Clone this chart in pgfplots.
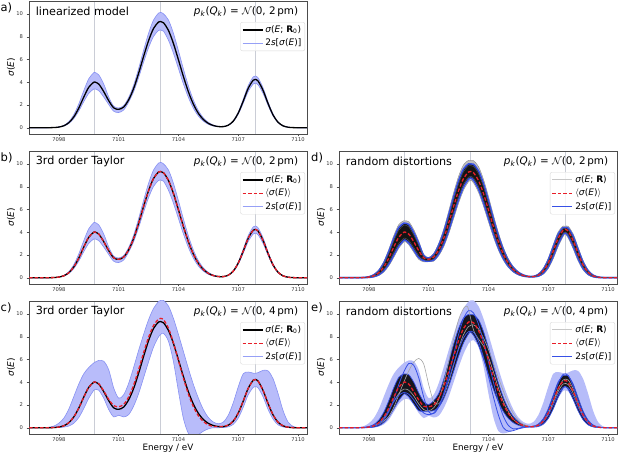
\documentclass[border=0pt]{standalone}
\usepackage{fontspec}
\setmainfont{DejaVu Sans}[ItalicFont={DejaVu Sans Oblique},BoldFont={DejaVu Sans Bold},BoldItalicFont={DejaVu Sans Bold Oblique}]
\usepackage{pgfplots}
\pgfplotsset{compat=1.18}
\usepackage{pgfplotstable}
\usepgfplotslibrary{fillbetween}

\definecolor{bandfill}{RGB}{184,188,250}
\definecolor{bandedge}{RGB}{135,145,242}
\definecolor{bandleg}{RGB}{150,160,246}
\definecolor{redm}{RGB}{232,30,40}
\definecolor{blued}{RGB}{55,80,230}
\definecolor{lav}{RGB}{182,188,249}
\definecolor{gridc}{RGB}{202,205,214}

\pgfplotsset{panel/.style={
 scale only axis, width=278pt, height=133pt,
 xmin=7096.5, xmax=7110.45, ymin=-0.55, ymax=11.15,
 xtick={7098,7101,7104,7107,7110}, xticklabels={7098,7101,7104,7107,7110},
 ytick={0,2,4,6,8,10}, yticklabels={0,2,4,6,8,10},
 tick label style={font=\fontsize{5.2}{6}\selectfont, text=black!80},
 xticklabel style={inner sep=1pt},
 tick align=outside, tick pos=left, major tick length=2.5pt,
 tick style={black!70, line width=0.4pt},
 axis line style={black!70, line width=0.5pt},
 extra x ticks={7099.8,7103.1,7107.85}, extra x tick labels={},
 extra x tick style={grid=major, major grid style={gridc, line width=0.6pt}, major tick length=0pt},
 ylabel={\textit{σ}(\textit{E})},
 ylabel style={at={(axis description cs:-0.065,0.5)}, anchor=center, font=\fontsize{9}{10}\selectfont},
 xlabel style={at={(axis description cs:0.5,-0.11)}, anchor=center, inner sep=0pt, font=\fontsize{8.8}{10}\selectfont},
 legend cell align=left,
 legend style={at={(0.993,0.842)}, anchor=north east, draw=black!15, rounded corners=2pt, fill=white, fill opacity=0.8, text opacity=1, draw opacity=1, font=\fontsize{9}{10.5}\selectfont, inner sep=1.5pt, row sep=1pt},
}}

\newcommand{\sig}{\textit{σ}(\textit{E})}
\newcommand{\ttl}[1]{\node[anchor=east, font=\fontsize{10.4}{12}\selectfont] at (rel axis cs:0.981,0.917) {\textit{p}\textsubscript{\textit{k}}(\textit{Q}\textsubscript{\textit{k}}) = $\mathcal{N}$(0, #1\,pm)};}
\newcommand{\lbl}[1]{\node[anchor=west, font=\fontsize{11.2}{13}\selectfont] at (rel axis cs:0.012,0.92) {#1};}
\newcommand{\legblack}{\addlegendimage{legend image code/.code={\draw[draw=black, line width=1.3pt] (0pt,0pt) -- (20pt,0pt);}}}
\newcommand{\legred}{\addlegendimage{legend image code/.code={\draw[draw=redm, line width=1.3pt, dash pattern=on 3.5pt off 2pt] (0pt,0pt) -- (20pt,0pt);}}}
\newcommand{\leglight}{\addlegendimage{legend image code/.code={\draw[draw=bandleg, line width=1.2pt] (0pt,0pt) -- (20pt,0pt);}}}
\newcommand{\leggrey}{\addlegendimage{legend image code/.code={\draw[draw=black!22, line width=0.9pt] (0pt,0pt) -- (20pt,0pt);}}}
\newcommand{\legblue}{\addlegendimage{legend image code/.code={\draw[draw=blued, line width=1.6pt] (0pt,0pt) -- (20pt,0pt);}}}

\pgfplotstableread{
x B Ua La Uc Lc Rc dGU dGL dBU dBL dKU dKL eL eKU eKL eR
7096.50 0 0 0 0 0 0 0 0 0 0 0 0 0 0 0 0
7096.75 0 0 0 0 0 0 0 0 0 0 0 0 0 0 0 0
7097.00 0 0 0 0.01 0 0 0 0 0 0 0 0 0 0 0 0
7097.25 0.001 0.001 0.001 0.02 0 0.001 0.002 0 0.002 0 0.001 0 0 0.001 0 0.001
7097.50 0.004 0.005 0.003 0.05 0 0.005 0.008 0 0.007 0.001 0.006 0.002 0 0.006 0.001 0.004
7097.75 0.017 0.021 0.014 0.15 0.005 0.02 0.032 0.003 0.028 0.006 0.024 0.011 0 0.031 0.002 0.017
7098.00 0.059 0.071 0.050 0.40 0.02 0.06 0.105 0.015 0.092 0.027 0.079 0.040 0 0.101 0.012 0.059
7098.25 0.176 0.213 0.150 0.85 0.06 0.18 0.295 0.064 0.263 0.092 0.229 0.126 0.03 0.283 0.055 0.176
7098.50 0.444 0.537 0.377 1.65 0.15 0.45 0.707 0.199 0.637 0.260 0.566 0.331 0.10 0.675 0.177 0.444
7098.75 0.954 1.154 0.811 2.75 0.40 0.96 1.442 0.504 1.316 0.611 1.188 0.739 0.30 1.375 0.457 0.954
7099.00 1.740 2.105 1.479 3.85 0.90 1.74 2.508 1.042 2.316 1.199 2.124 1.391 0.70 2.386 0.955 1.740
7099.25 2.702 3.269 2.297 4.75 1.70 2.70 3.715 1.797 3.471 1.987 3.235 2.223 1.40 3.526 1.662 2.702
7099.50 3.565 4.314 3.030 5.30 2.60 3.56 4.682 2.591 4.425 2.776 4.191 3.011 2.10 4.432 2.413 3.565
7099.75 4.006 4.847 3.405 5.70 3.30 4.01 5.017 3.155 4.802 3.290 4.625 3.467 2.50 4.737 2.955 4.006
7099.80 4.022 4.867 3.419 5.75 3.35 4.03 5.007 3.198 4.800 3.324 4.632 3.492 2.52 4.726 2.997 4.022
7100.00 3.843 4.650 3.267 5.92 3.30 3.87 4.931 2.908 4.689 3.074 4.477 3.285 2.50 4.662 2.716 3.843
7100.25 3.178 3.845 2.701 5.85 2.60 3.24 4.234 2.249 3.987 2.433 3.758 2.662 2.00 4.011 2.091 3.178
7100.50 2.380 2.700 2.050 5.10 1.60 2.50 3.237 1.618 3.032 1.775 2.837 1.971 1.30 3.071 1.499 2.45
7100.75 1.750 1.900 1.450 3.50 0.95 1.95 2.052 1.398 1.956 1.494 1.863 1.597 0.85 2.302 1.448 1.90
7101.00 1.620 1.740 1.340 2.60 1.10 1.85 1.784 1.406 1.730 1.460 1.685 1.515 1.05 2.034 1.456 1.85
7101.25 1.820 1.950 1.560 2.90 0.95 2.05 2.136 1.454 2.036 1.554 1.938 1.662 0.90 2.386 1.504 2.00
7101.50 2.450 2.660 2.250 3.90 1.15 2.70 3.021 1.928 2.850 2.075 2.699 2.226 1.05 2.988 1.814 2.60
7101.75 3.450 3.743 3.174 5.30 1.90 3.75 4.263 2.706 4.020 2.915 3.804 3.131 1.70 4.219 2.543 3.60
7102.00 4.790 5.197 4.407 6.80 3.00 5.10 5.833 3.843 5.520 4.108 5.250 4.377 2.70 5.754 3.634 4.95
7102.25 6.268 6.801 5.767 8.20 4.40 6.60 7.469 5.193 7.109 5.490 6.814 5.785 4.00 7.333 4.952 6.268
7102.50 7.660 8.311 7.047 9.50 5.80 7.95 8.920 6.553 8.542 6.854 8.254 7.142 5.30 8.713 6.301 7.660
7102.75 8.737 9.480 8.038 10.50 7.10 9.00 9.939 7.710 9.579 7.983 9.333 8.229 6.50 9.655 7.469 8.737
7103.00 9.298 10.088 8.554 11.10 8.00 9.55 10.328 8.454 10.019 8.670 9.844 8.845 7.40 9.976 8.248 9.298
7103.10 9.350 10.145 8.602 11.20 8.20 9.62 10.305 8.582 10.019 8.775 9.871 8.922 7.60 9.955 8.391 9.350
7103.25 9.234 10.019 8.495 11.20 8.30 9.50 10.305 8.347 9.984 8.576 9.794 8.766 7.70 9.936 8.133 9.234
7103.50 8.557 9.47 7.69 10.70 7.60 8.75 9.780 7.505 9.413 7.787 9.156 8.044 7.10 9.510 7.261 8.557
7103.75 7.399 8.29 6.55 9.60 5.80 7.45 8.657 6.289 8.280 6.592 7.987 6.885 5.40 8.465 6.037 7.399
7104.00 5.969 6.77 5.20 8.20 3.20 5.90 7.147 4.910 6.794 5.204 6.500 5.497 3.00 7.024 4.675 5.969
7104.25 4.494 5.16 3.85 6.70 0.80 4.35 5.505 3.572 5.202 3.831 4.938 4.095 0.90 5.438 3.371 4.494
7104.50 3.157 3.67 2.66 5.20 -0.50 2.95 3.958 2.419 3.718 2.628 3.501 2.845 -0.30 3.928 2.259 3.157
7104.75 2.069 2.43 1.71 3.80 -0.80 1.85 2.654 1.525 2.479 1.680 2.315 1.844 -0.50 2.647 1.408 2.069
7105.00 1.265 1.50 1.03 2.60 -0.60 1.05 1.661 0.895 1.542 1.001 1.429 1.114 -0.40 1.664 0.816 1.265
7105.25 0.722 0.87 0.58 1.60 -0.30 0.55 0.970 0.488 0.896 0.556 0.824 0.628 -0.20 0.976 0.439 0.722
7105.50 0.384 0.47 0.30 0.90 -0.10 0.25 0.528 0.247 0.485 0.287 0.442 0.330 -0.05 0.534 0.219 0.384
7105.75 0.194 0.24 0.15 0.50 0 0.12 0.269 0.122 0.247 0.143 0.225 0.165 0 0.273 0.108 0.194
7106.00 0.104 0.12 0.09 0.35 0 0.10 0.133 0.077 0.124 0.085 0.117 0.092 0 0.133 0.071 0.104
7106.25 0.100 0.11 0.09 0.50 0.02 0.12 0.130 0.066 0.121 0.076 0.110 0.087 0.01 0.127 0.067 0.100
7106.50 0.224 0.240 0.206 1.10 0.08 0.24 0.333 0.106 0.299 0.141 0.262 0.179 0.06 0.319 0.116 0.224
7106.75 0.581 0.622 0.535 2.20 0.30 0.59 0.829 0.310 0.750 0.391 0.668 0.477 0.25 0.797 0.330 0.581
7107.00 1.290 1.380 1.187 3.60 0.85 1.29 1.720 0.808 1.582 0.953 1.440 1.102 0.75 1.675 0.827 1.290
7107.25 2.344 2.508 2.156 4.75 1.80 2.34 2.921 1.674 2.731 1.875 2.544 2.074 1.60 2.881 1.667 2.344
7107.50 3.471 3.714 3.193 4.90 2.90 3.46 4.046 2.757 3.849 2.971 3.668 3.169 2.60 4.043 2.691 3.471
7107.75 4.180 4.473 3.846 4.80 3.55 4.17 4.556 3.637 4.414 3.799 4.308 3.927 3.25 4.614 3.495 4.10
7107.85 4.250 4.548 3.910 4.78 3.62 4.24 4.525 3.805 4.413 3.939 4.342 4.031 3.30 4.606 3.639 4.15
7108.00 4.095 4.382 3.767 4.85 3.50 4.09 4.525 3.502 4.367 3.679 4.241 3.826 3.20 4.570 3.375 4.00
7108.25 3.262 3.490 3.001 5.05 2.70 3.27 3.854 2.540 3.653 2.757 3.466 2.960 2.50 3.840 2.488 3.20
7108.50 2.114 2.262 1.945 5.00 1.60 2.12 2.671 1.473 2.489 1.665 2.307 1.857 1.50 2.627 1.474 2.08
7108.75 1.114 1.192 1.025 4.30 0.75 1.12 1.508 0.676 1.382 0.807 1.250 0.944 0.70 1.465 0.696 1.114
7109.00 0.478 0.511 0.440 3.00 0.25 0.48 0.697 0.240 0.628 0.312 0.555 0.387 0.22 0.668 0.259 0.478
7109.25 0.166 0.178 0.153 1.50 0.07 0.17 0.262 0.063 0.232 0.094 0.199 0.128 0.06 0.248 0.074 0.166
7109.50 0.047 0.050 0.043 0.50 0.02 0.05 0.081 0.011 0.071 0.022 0.059 0.034 0.02 0.076 0.015 0.047
7109.75 0.011 0.012 0.010 0.12 0 0.01 0.021 0.001 0.018 0.004 0.015 0.007 0 0.019 0.002 0.011
7110.00 0.002 0.002 0.002 0.02 0 0 0.004 0 0.003 0.001 0.003 0.001 0 0.003 0 0.002
7110.25 0 0 0 0 0 0 0 0 0 0 0 0 0 0 0 0
7110.50 0 0 0 0 0 0 0 0 0 0 0 0 0 0 0 0
}\data

\begin{document}
\begin{tikzpicture}
\tikzset{plab/.style={anchor=west, font=\fontsize{11.5}{13}\selectfont, inner sep=0pt}}
\node[plab] at (0.5pt,446.5pt) {a)};
\node[plab] at (0.5pt,296.5pt) {b)};
\node[plab] at (0.5pt,146.5pt) {c)};
\node[plab] at (311pt,296.5pt) {d)};
\node[plab] at (311pt,146.5pt) {e)};

% ---------- a ----------
\begin{axis}[panel, at={(29pt,453pt)}, anchor=north west]
\addplot[draw=none, smooth, name path=aU, forget plot] table[x=x,y=Ua]{\data};
\addplot[draw=none, smooth, name path=aL, forget plot] table[x=x,y=La]{\data};
\addplot[fill=bandfill, draw=none, forget plot] fill between[of=aU and aL];
\addplot[bandedge, line width=0.6pt, smooth, forget plot] table[x=x,y=Ua]{\data};
\addplot[bandedge, line width=0.6pt, smooth, forget plot] table[x=x,y=La]{\data};
\addplot[black, line width=1.3pt, smooth, forget plot] table[x=x,y=B]{\data};
\lbl{linearized model}
\ttl{2}
\legblack
\addlegendentry{\textit{σ}(\textit{E}; \textbf{R}\textsubscript{0})}
\leglight
\addlegendentry{2\textit{s}[\sig]}
\end{axis}

% ---------- b ----------
\begin{axis}[panel, at={(29pt,303pt)}, anchor=north west]
\addplot[draw=none, smooth, name path=bU, forget plot] table[x=x,y=Ua]{\data};
\addplot[draw=none, smooth, name path=bL, forget plot] table[x=x,y=La]{\data};
\addplot[fill=bandfill, draw=none, forget plot] fill between[of=bU and bL];
\addplot[bandedge, line width=0.6pt, smooth, forget plot] table[x=x,y=Ua]{\data};
\addplot[bandedge, line width=0.6pt, smooth, forget plot] table[x=x,y=La]{\data};
\addplot[black, line width=1.3pt, smooth, forget plot] table[x=x,y=B]{\data};
\addplot[redm, line width=1.3pt, dash pattern=on 3.5pt off 2pt, smooth, forget plot] table[x=x,y=B]{\data};
\lbl{3rd order Taylor}
\ttl{2}
\legblack
\addlegendentry{\textit{σ}(\textit{E}; \textbf{R}\textsubscript{0})}
\legred
\addlegendentry{$\langle$\sig$\rangle$}
\leglight
\addlegendentry{2\textit{s}[\sig]}
\end{axis}

% ---------- c ----------
\begin{axis}[panel, at={(29pt,153pt)}, anchor=north west, xlabel={Energy / eV}]
\addplot[draw=none, smooth, name path=cU, forget plot] table[x=x,y=Uc]{\data};
\addplot[draw=none, smooth, name path=cL, forget plot] table[x=x,y=Lc]{\data};
\addplot[fill=bandfill, draw=none, forget plot] fill between[of=cU and cL];
\addplot[bandedge, line width=0.6pt, smooth, forget plot] table[x=x,y=Uc]{\data};
\addplot[bandedge, line width=0.6pt, smooth, forget plot] table[x=x,y=Lc]{\data};
\addplot[black, line width=1.3pt, smooth, forget plot] table[x=x,y=B]{\data};
\addplot[redm, line width=1.3pt, dash pattern=on 3.5pt off 2pt, smooth, forget plot] table[x=x,y=Rc]{\data};
\lbl{3rd order Taylor}
\ttl{4}
\legblack
\addlegendentry{\textit{σ}(\textit{E}; \textbf{R}\textsubscript{0})}
\legred
\addlegendentry{$\langle$\sig$\rangle$}
\leglight
\addlegendentry{2\textit{s}[\sig]}
\end{axis}

% ---------- d ----------
\begin{axis}[panel, at={(339pt,303pt)}, anchor=north west]
\addplot[draw=none, smooth, name path=dGU, forget plot] table[x=x,y=dGU]{\data};
\addplot[draw=none, smooth, name path=dGL, forget plot] table[x=x,y=dGL]{\data};
\addplot[draw=none, smooth, name path=dBU, forget plot] table[x=x,y=dBU]{\data};
\addplot[draw=none, smooth, name path=dBL, forget plot] table[x=x,y=dBL]{\data};
\addplot[fill=black!25, draw=none, forget plot] fill between[of=dGU and dGL];
\addplot[black!45, line width=0.4pt, smooth, forget plot] table[x=x,y=dGU]{\data};
\addplot[black!45, line width=0.4pt, smooth, forget plot] table[x=x,y=dGL]{\data};
\addplot[fill=black!92, draw=none, forget plot] fill between[of=dBU and dBL];
\addplot[blued, line width=1.5pt, smooth, forget plot] table[x=x,y=dBU]{\data};
\addplot[blued, line width=1.5pt, smooth, forget plot] table[x=x,y=dBL]{\data};
\addplot[black!70, line width=0.5pt, smooth, forget plot] table[x=x,y=dKU]{\data};
\addplot[black!70, line width=0.5pt, smooth, forget plot] table[x=x,y=dKL]{\data};
\addplot[redm, line width=1.3pt, dash pattern=on 3.5pt off 2pt, smooth, forget plot] table[x=x,y=B]{\data};
\lbl{random distortions}
\ttl{2}
\leggrey
\addlegendentry{\textit{σ}(\textit{E}; \textbf{R})}
\legred
\addlegendentry{$\langle$\sig$\rangle$}
\legblue
\addlegendentry{2\textit{s}[\sig]}
\end{axis}

% ---------- e ----------
\begin{axis}[panel, at={(339pt,153pt)}, anchor=north west, xlabel={Energy / eV}]
\addplot[draw=none, smooth, name path=eU, forget plot] table[x=x,y=Uc]{\data};
\addplot[draw=none, smooth, name path=eL, forget plot] table[x=x,y=eL]{\data};
\addplot[draw=none, smooth, name path=eKU, forget plot] table[x=x,y=eKU]{\data};
\addplot[draw=none, smooth, name path=eKL, forget plot] table[x=x,y=eKL]{\data};
\addplot[fill=lav, draw=none, forget plot] fill between[of=eU and eL];
\addplot[fill=black, fill opacity=0.88, draw=none, forget plot] fill between[of=eKU and eKL];
\addplot[blued, line width=0.7pt, smooth, forget plot] table[x=x,y=eKU]{\data};
\addplot[blued, line width=0.7pt, smooth, forget plot] table[x=x,y=eKL]{\data};
\addplot[black!35, line width=0.6pt, smooth, forget plot] coordinates {(7096.5,0) (7097.5,0.01) (7098,0.06) (7098.5,0.3) (7098.75,0.6) (7099,1.0) (7099.25,1.8) (7099.5,2.9) (7099.75,4.0) (7100,5.0) (7100.25,5.75) (7100.5,6.1) (7100.75,5.6) (7101,3.8) (7101.25,2.3) (7101.5,2.1) (7101.75,2.8) (7102,4.0) (7102.25,5.5) (7102.5,7.0) (7102.75,8.2) (7103,8.9) (7103.25,9.05) (7103.5,8.7) (7103.75,7.9) (7104,6.9) (7104.25,5.7) (7104.5,4.4) (7104.75,3.2) (7105,2.1) (7105.25,1.25) (7105.5,0.65) (7105.75,0.3) (7106,0.15) (7106.25,0.12) (7106.5,0.22) (7106.75,0.55) (7107,1.2) (7107.25,2.2) (7107.5,3.2) (7107.75,3.85) (7108,3.8) (7108.25,3.05) (7108.5,2.0) (7108.75,1.05) (7109,0.45) (7109.25,0.15) (7109.5,0.04) (7110,0) (7110.5,0)};
\addplot[black!35, line width=0.6pt, smooth, forget plot] coordinates {(7096.5,0) (7097.5,0.003) (7098,0.05) (7098.5,0.38) (7098.75,0.8) (7099,1.5) (7099.25,2.3) (7099.5,3.0) (7099.75,3.4) (7100,3.3) (7100.25,2.8) (7100.5,2.1) (7100.75,1.6) (7101,1.5) (7101.25,1.75) (7101.5,2.5) (7101.75,3.9) (7102,5.8) (7102.25,7.8) (7102.5,9.5) (7102.75,10.5) (7102.9,10.7) (7103,10.4) (7103.25,8.6) (7103.5,7.8) (7103.75,7.2) (7104,6.2) (7104.25,4.9) (7104.5,3.5) (7104.75,2.3) (7105,1.4) (7105.25,0.75) (7105.5,0.38) (7105.75,0.18) (7106,0.1) (7106.5,0.2) (7106.75,0.55) (7107,1.25) (7107.25,2.3) (7107.5,3.45) (7107.75,4.2) (7108,4.2) (7108.25,3.4) (7108.5,2.2) (7108.75,1.15) (7109,0.5) (7109.25,0.17) (7109.5,0.05) (7110,0) (7110.5,0)};
\addplot[blued, line width=0.8pt, smooth, forget plot] coordinates {(7096.5,0) (7097.5,0.002) (7098,0.04) (7098.5,0.3) (7098.75,0.7) (7099,1.4) (7099.25,2.5) (7099.5,3.8) (7099.75,4.9) (7100,5.65) (7100.25,5.5) (7100.5,4.4) (7100.75,2.7) (7101,1.4) (7101.25,1.25) (7101.5,1.8) (7101.75,3.0) (7102,4.6) (7102.25,6.4) (7102.5,8.2) (7102.75,9.6) (7103,10.3) (7103.25,10.1) (7103.5,9.1) (7103.75,7.6) (7104,5.8) (7104.25,4.0) (7104.5,2.3) (7104.75,1.0) (7105,0.2) (7105.25,-0.1) (7105.5,-0.05) (7105.75,0.05) (7106,0.1) (7106.25,0.12) (7106.5,0.26) (7106.75,0.66) (7107,1.45) (7107.25,2.65) (7107.5,3.9) (7107.75,4.7) (7108,4.6) (7108.25,3.65) (7108.5,2.35) (7108.75,1.25) (7109,0.53) (7109.25,0.18) (7109.5,0.05) (7110,0) (7110.5,0)};
\addplot[blued, line width=0.8pt, smooth, forget plot] coordinates {(7096.5,0) (7097.5,0.01) (7098,0.1) (7098.5,0.45) (7098.75,0.9) (7099,1.55) (7099.25,2.3) (7099.5,2.85) (7099.75,3.1) (7100,2.95) (7100.25,2.45) (7100.5,1.8) (7100.75,1.3) (7101,1.15) (7101.25,1.3) (7101.5,1.9) (7101.75,2.9) (7102,4.2) (7102.25,5.6) (7102.5,6.9) (7102.75,7.9) (7103,8.45) (7103.25,8.4) (7103.5,7.6) (7103.75,6.2) (7104,4.5) (7104.25,2.7) (7104.5,1.1) (7104.75,0.0) (7105,-0.3) (7105.25,-0.25) (7105.5,-0.1) (7105.75,0.0) (7106,0.08) (7106.5,0.19) (7106.75,0.5) (7107,1.1) (7107.25,2.0) (7107.5,2.95) (7107.75,3.55) (7108,3.5) (7108.25,2.8) (7108.5,1.8) (7108.75,0.95) (7109,0.4) (7109.25,0.14) (7109.5,0.04) (7110,0) (7110.5,0)};
\addplot[redm, line width=1.3pt, dash pattern=on 3.5pt off 2pt, smooth, forget plot] table[x=x,y=eR]{\data};
\lbl{random distortions}
\ttl{4}
\leggrey
\addlegendentry{\textit{σ}(\textit{E}; \textbf{R})}
\legred
\addlegendentry{$\langle$\sig$\rangle$}
\legblue
\addlegendentry{2\textit{s}[\sig]}
\end{axis}
\pgfresetboundingbox
\useasboundingbox (0pt,0pt) rectangle (621pt,454pt);
\end{tikzpicture}
\end{document}
